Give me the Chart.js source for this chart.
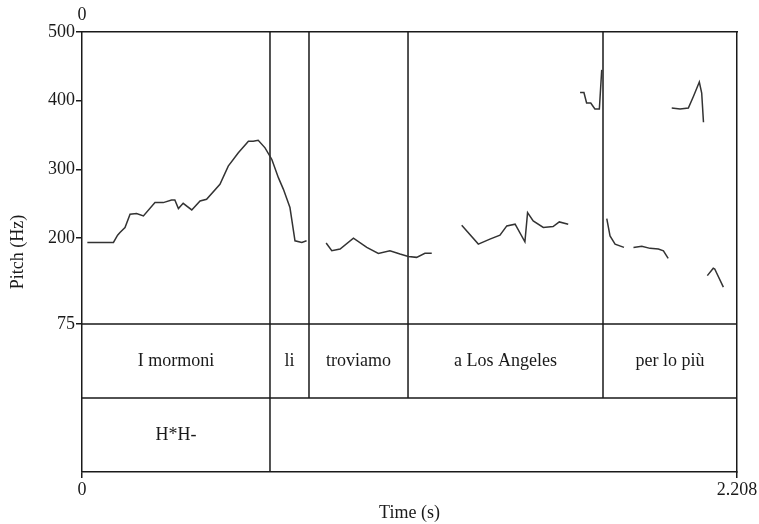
<!DOCTYPE html>
<html><head><meta charset="utf-8">
<script src="https://cdn.jsdelivr.net/npm/chart.js@4/dist/chart.umd.min.js"></script>
<style>html,body{margin:0;padding:0;background:#fff}#wrap{width:759px;height:524px}</style>
</head><body><div id="wrap"><canvas id="c" width="759" height="524"></canvas></div>
<script>
// Pitch track (s, Hz); null marks an unvoiced gap
const pitchTime = [0.018,0.106,0.120,0.128,0.145,0.162,0.184,0.207,0.246,0.274,0.302,0.313,0.325,0.341,0.370,0.398,0.420,0.465,0.493,0.527,0.561,0.577,0.594,0.617,0.640,0.662,0.679,0.701,0.718,0.741,0.757,null,
  0.823,0.842,0.870,0.915,0.960,0.999,1.038,1.072,1.100,1.128,1.156,1.179,null,
  1.280,1.336,1.375,1.409,1.432,1.460,1.493,1.502,1.521,1.555,1.588,1.609,1.639,null,
  1.679,1.692,1.701,1.715,1.729,1.744,1.752,null,
  1.769,1.780,1.797,1.827,null,
  1.859,1.887,1.915,1.943,1.960,1.976,null,
  1.988,2.016,2.044,2.061,2.081,2.089,2.095,null,
  2.108,2.128,2.133,2.162];
const pitchHz = [193.8,193.8,204.3,208.3,215.5,234.8,235.8,232.3,251.7,251.7,255.5,255.5,243.0,250.7,241.0,254.1,256.5,278.3,304.8,324.2,341.0,341.0,342.5,331.4,314.5,288.0,271.0,244.5,196.1,193.8,196.1,null,
  192.8,181.6,184.1,200.0,186.5,177.8,181.6,176.8,173.4,172.0,177.8,177.8,null,
  218.8,191.3,198.6,204.3,217.8,220.3,194.7,237.2,225.1,215.5,216.9,223.6,220.3,null,
  412.0,412.0,396.6,396.6,388.0,388.0,444.9,null,
  228.5,203.3,191.3,186.5,null,
  186.5,188.0,185.1,184.1,181.6,170.6,null,
  389.4,388.0,389.4,406.2,427.1,411.2,368.6,null,
  145.4,156.1,155.1,128.6];

// Annotation tiers
const wordBounds = [0, 0.6337, 0.7652, 1.0990, 1.7563, 2.208];
const wordLabels = ['I mormoni', 'li', 'troviamo', 'a Los Angeles', 'per lo più'];
const toneBounds = [0, 0.6337, 2.208];
const toneLabels = ['H*H-', ''];

// Axis ticks
const yTicks = [75, 200, 300, 400, 500];
const xTicks = [0, 2.208];
const topTicks = [0];

const X_MIN = 0, X_MAX = 2.208;
const Y_MAX = 500, Y_PITCH_MIN = 75;
const TIER_H = 107.7;
const TIER1_BOT = Y_PITCH_MIN - TIER_H;
const Y_MIN = Y_PITCH_MIN - 2 * TIER_H;

const INK = '#1a1a1a';
const FONT = {family: '"Liberation Serif", "Times New Roman", serif', size: 18};

const pitchData = pitchTime.map((t, i) => ({x: t === null ? pitchTime[i-1] : t, y: pitchHz[i]}));

const gridData = [];
[Y_PITCH_MIN, TIER1_BOT].forEach(v => {
  gridData.push({x: X_MIN, y: v}, {x: X_MAX, y: v}, {x: X_MAX, y: null});
});
wordBounds.slice(1, -1).forEach(b => {
  gridData.push({x: b, y: Y_MAX}, {x: b, y: TIER1_BOT}, {x: b, y: null});
});
toneBounds.slice(1, -1).forEach(b => {
  gridData.push({x: b, y: TIER1_BOT}, {x: b, y: Y_MIN}, {x: b, y: null});
});

const tierText = {
  id: 'tierText',
  afterDatasetsDraw(chart) {
    const {ctx, scales: {x, y}} = chart;
    ctx.save();
    ctx.fillStyle = INK;
    ctx.font = FONT.size + 'px ' + FONT.family;
    ctx.textAlign = 'center';
    ctx.textBaseline = 'middle';
    const y1 = y.getPixelForValue((Y_PITCH_MIN + TIER1_BOT) / 2);
    wordLabels.forEach((l, i) => {
      ctx.fillText(l, x.getPixelForValue((wordBounds[i] + wordBounds[i+1]) / 2), y1);
    });
    const y2 = y.getPixelForValue((TIER1_BOT + Y_MIN) / 2);
    toneLabels.forEach((l, i) => {
      ctx.fillText(l, x.getPixelForValue((toneBounds[i] + toneBounds[i+1]) / 2), y2);
    });
    ctx.restore();
  }
};

const tickGrid = {display: true, drawOnChartArea: false, drawTicks: true, tickLength: 6, color: INK, lineWidth: 1.5};
const border = {display: true, color: INK, width: 1.5};

new Chart(document.getElementById('c'), {
  type: 'line',
  data: {
    datasets: [
      {label: 'F0', data: pitchData, borderColor: '#333', borderWidth: 1.5, pointRadius: 0, tension: 0, spanGaps: false},
      {label: 'tiers', data: gridData, borderColor: INK, borderWidth: 1.5, pointRadius: 0, tension: 0, spanGaps: false}
    ]
  },
  options: {
    responsive: false,
    animation: false,
    devicePixelRatio: 1,
    layout: {padding: 0},
    plugins: {legend: {display: false}, tooltip: {enabled: false}},
    scales: {
      x: {
        type: 'linear', position: 'bottom', min: X_MIN, max: X_MAX,
        afterBuildTicks: s => { s.ticks = xTicks.map(v => ({value: v})); },
        afterFit: s => { s.height = 52; },
        ticks: {font: FONT, color: INK, padding: 1, maxRotation: 0, autoSkip: false, callback: v => String(v)},
        grid: tickGrid, border: border,
        title: {display: true, text: 'Time (s)', font: FONT, color: INK, padding: {top: 3, bottom: 0}}
      },
      xTop: {
        type: 'linear', position: 'top', min: X_MIN, max: X_MAX,
        afterBuildTicks: s => { s.ticks = topTicks.map(v => ({value: v})); },
        afterFit: s => { s.height = 32; },
        ticks: {font: FONT, color: INK, padding: -2, maxRotation: 0, autoSkip: false, callback: v => String(v)},
        grid: {display: false}, border: border
      },
      y: {
        type: 'linear', position: 'left', min: Y_MIN, max: Y_MAX,
        afterBuildTicks: s => { s.ticks = yTicks.map(v => ({value: v})); },
        afterFit: s => { s.width = 82; },
        ticks: {font: FONT, color: INK, padding: 1, autoSkip: false, callback: v => String(v)},
        grid: tickGrid, border: border,
        title: {display: true, text: 'Pitch (Hz)', font: FONT, color: INK, padding: {top: 7, bottom: 0}}
      },
      yRight: {
        type: 'linear', position: 'right', min: Y_MIN, max: Y_MAX,
        afterFit: s => { s.width = 22; },
        ticks: {display: false}, grid: {display: false}, border: border
      }
    }
  },
  plugins: [tierText]
});
</script>
</body></html>
